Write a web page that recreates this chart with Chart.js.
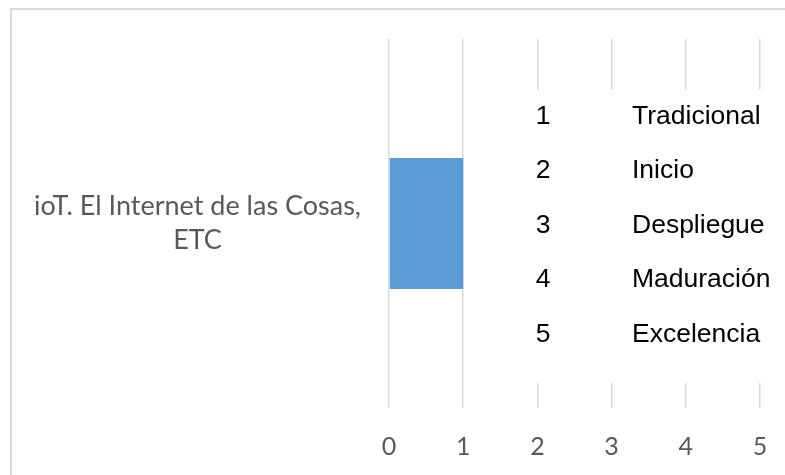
<!DOCTYPE html>
<html>
<head>
<meta charset="utf-8">
<script src="https://cdn.jsdelivr.net/npm/chart.js@4.4.1/dist/chart.umd.min.js"></script>
<style>
  html, body { margin: 0; padding: 0; background: #ffffff; }
  #wrap { width: 785px; height: 475px; }
</style>
</head>
<body>
<div id="wrap"><canvas id="c" width="785" height="475"></canvas></div>
<script>
// Category (two-line label), its score and the axis ticks
const categories = [['ioT. El Internet de las Cosas,', 'ETC']];
const values = [1];
const xTicks = [0, 1, 2, 3, 4, 5];

// Maturity scale shown beside the bars
const levelNumbers = ['1', '2', '3', '4', '5'];
const levelNames = ['Tradicional', 'Inicio', 'Despliegue', 'Maduración', 'Excelencia'];

// Light grey frame around the whole chart
const framePlugin = {
  id: 'frame',
  beforeDraw(chart) {
    const ctx = chart.ctx;
    ctx.save();
    ctx.strokeStyle = '#D9D9D9';
    ctx.lineWidth = 2;
    ctx.strokeRect(11, 9, 900, 600);
    ctx.restore();
  }
};

// Scale table (number + level name) on a white panel over the grid
const levelTablePlugin = {
  id: 'levelTable',
  afterDraw(chart) {
    const ctx = chart.ctx;
    const area = chart.chartArea;
    const midY = (area.top + area.bottom) / 2 + 2;
    const rowGap = 54.6;
    ctx.save();
    ctx.fillStyle = '#ffffff';
    ctx.fillRect(500, 90, 300, 293);
    ctx.fillStyle = '#000000';
    ctx.font = '26.5px "Liberation Sans", Arial, sans-serif';
    ctx.textBaseline = 'middle';
    levelNumbers.forEach((n, i) => {
      const y = midY + (i - 2) * rowGap;
      ctx.textAlign = 'center';
      ctx.fillText(n, 543, y);
      ctx.textAlign = 'left';
      ctx.fillText(levelNames[i], 632, y);
    });
    ctx.restore();
  }
};

new Chart(document.getElementById('c'), {
  type: 'bar',
  data: {
    labels: categories,
    datasets: [{
      data: values,
      backgroundColor: '#5B9BD5',
      borderWidth: 0,
      barPercentage: 1,
      categoryPercentage: 0.355
    }]
  },
  options: {
    indexAxis: 'y',
    responsive: false,
    animation: false,
    layout: { padding: { left: 11, top: 39, right: 25, bottom: 13 } },
    plugins: { legend: { display: false }, tooltip: { enabled: false } },
    scales: {
      x: {
        min: xTicks[0],
        max: xTicks[xTicks.length - 1],
        afterBuildTicks(scale) { scale.ticks = xTicks.map(v => ({ value: v })); },
        afterFit(scale) {
          scale.height = 54;
          scale.paddingLeft = 0;
          scale.paddingRight = 0;
        },
        grid: { color: '#D9D9D9', lineWidth: 1.5, drawTicks: false },
        border: { display: false },
        ticks: {
          padding: 24,
          color: '#595959',
          font: { family: 'Lato, "Open Sans", sans-serif', size: 25 }
        }
      },
      y: {
        grid: { display: false, drawTicks: false },
        border: { display: false },
        afterFit(scale) {
          scale.width = 378;
          scale.paddingTop = 0;
          scale.paddingBottom = 0;
        },
        ticks: {
          crossAlign: 'center',
          padding: 28,
          color: '#595959',
          font: { family: 'Lato, "Open Sans", sans-serif', size: 27, lineHeight: 1.28 }
        }
      }
    }
  },
  plugins: [framePlugin, levelTablePlugin]
});
</script>
</body>
</html>
